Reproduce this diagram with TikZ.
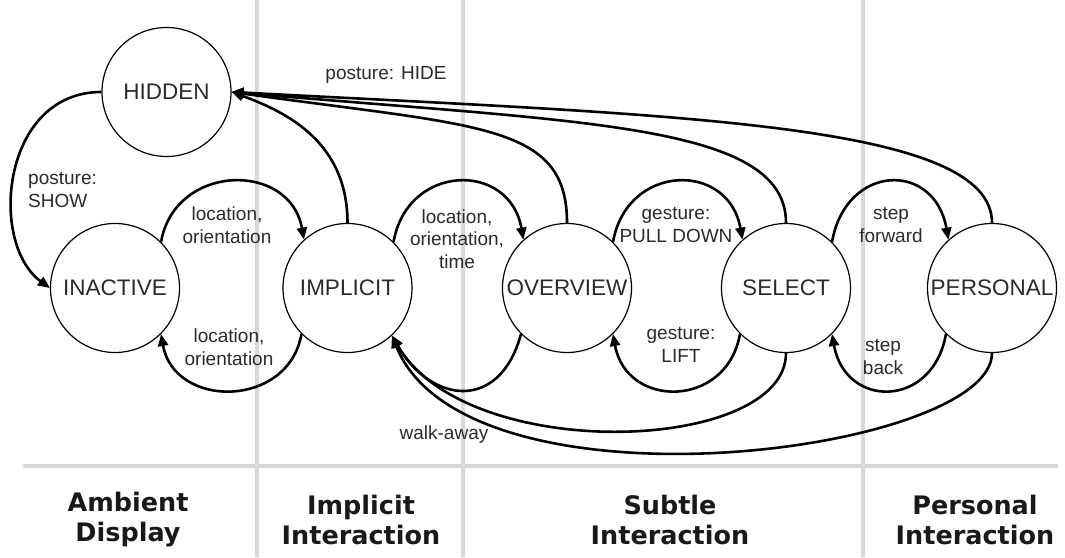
\documentclass[tikz,border=0pt]{standalone}
\usepackage{fontspec}
\setmainfont{Liberation Sans}
\newfontfamily\headfont{DejaVu Sans}
\usetikzlibrary{arrows.meta}
\definecolor{txt}{HTML}{2A2A2A}
\definecolor{gridgray}{HTML}{D8D8D8}
\tikzset{
  state/.style={circle, draw, line width=1.2pt, minimum size=129pt, inner sep=0pt,
    font=\fontsize{22.5}{24}\selectfont, text=txt},
  tr/.style={line width=2.6pt, -{Triangle[length=12pt,width=10pt]}},
  lbl/.style={font=\fontsize{19}{22.5}\selectfont, align=center, text=txt, inner sep=0pt},
  gridline/.style={line width=3.5pt, draw=gridgray},
  head/.style={font=\headfont\bfseries\fontsize{25.5}{30}\selectfont, align=center, text=black!90}
}
\begin{document}
\begin{tikzpicture}[x=1pt,y=1pt]
\useasboundingbox (0,0) rectangle (1065,557);
% grid
\draw[gridline] (257,0) -- (257,557);
\draw[gridline] (463,0) -- (463,557);
\draw[gridline] (863,0) -- (863,557);
\draw[gridline] (23,91) -- (1058,91);
% headings
\node[head] (hA) at (128,37) {Ambient\\Display};
\node[head] (hB) at (361,37) {Implicit\\Interaction};
\node[head] (hC) at (670,37) {Subtle\\Interaction};
\node[head] (hD) at (975,37) {Personal\\Interaction};
% states
\node[state] (HID) at (166.5,465) {HIDDEN};
\node[state] (INA) at (115,269) {INACTIVE};
\node[state] (IMP) at (347.5,269) {IMPLICIT};
\node[state] (OVE) at (567,269) {OVERVIEW};
\node[state] (SEL) at (786,269) {SELECT};
\node[state] (PER) at (992,269) {PERSONAL};
% show
\draw[tr] (HID.west) .. controls +(180:100) and +(144:76) .. (INA.west);
% top arcs
\draw[tr] (INA.45) .. controls +(80:80) and +(100:80) .. (IMP.132);
\draw[tr] (IMP.45) .. controls +(80:80) and +(100:80) .. (OVE.132);
\draw[tr] (OVE.45) .. controls +(80:80) and +(100:80) .. (SEL.132);
\draw[tr] (SEL.45) .. controls +(80:80) and +(100:80) .. (PER.132);
% bottom arcs
\draw[tr] (IMP.225) .. controls +(260:76) and +(280:76) .. (INA.315);
\draw[tr] (SEL.225) .. controls +(260:76) and +(280:76) .. (OVE.315);
\draw[tr] (PER.225) .. controls +(260:76) and +(280:76) .. (SEL.315);
% walk-away
\draw[tr] (OVE.225) .. controls +(255:80) and +(300:80) .. (IMP.313);
\draw[tr] (SEL.270) .. controls +(270:100) and +(300:150) .. (IMP.313);
\draw[tr] (PER.270) .. controls +(270:100) and +(292:200) .. (IMP.313);
% hide
\draw[tr] (IMP.90) .. controls +(90:80) and +(-20:60) .. (HID.east);
\draw[tr] (OVE.90) .. controls +(90:100) and +(-8:250) .. (HID.east);
\draw[tr] (SEL.90) .. controls +(90:100) and +(-5:350) .. (HID.east);
\draw[tr] (PER.90) .. controls +(90:100) and +(-3:450) .. (HID.east);
% labels
\node[lbl] (lHide) at (386,482) {posture: HIDE};
\node[lbl, anchor=west, align=left] (lShow) at (28,367) {posture:\\SHOW};
\node[lbl] (l1) at (227,332) {location,\\orientation};
\node[lbl] (l2) at (229,210) {location,\\orientation};
\node[lbl] (l3) at (457,318) {location,\\orientation,\\time};
\node[lbl] (l4) at (676,332) {gesture:\\PULL DOWN};
\node[lbl] (l5) at (681,212) {gesture:\\LIFT};
\node[lbl] (l6) at (891,332) {step\\forward};
\node[lbl] (l7) at (883,200) {step\\back};
\node[lbl] (l8) at (444,122) {walk-away};
\end{tikzpicture}
\end{document}
